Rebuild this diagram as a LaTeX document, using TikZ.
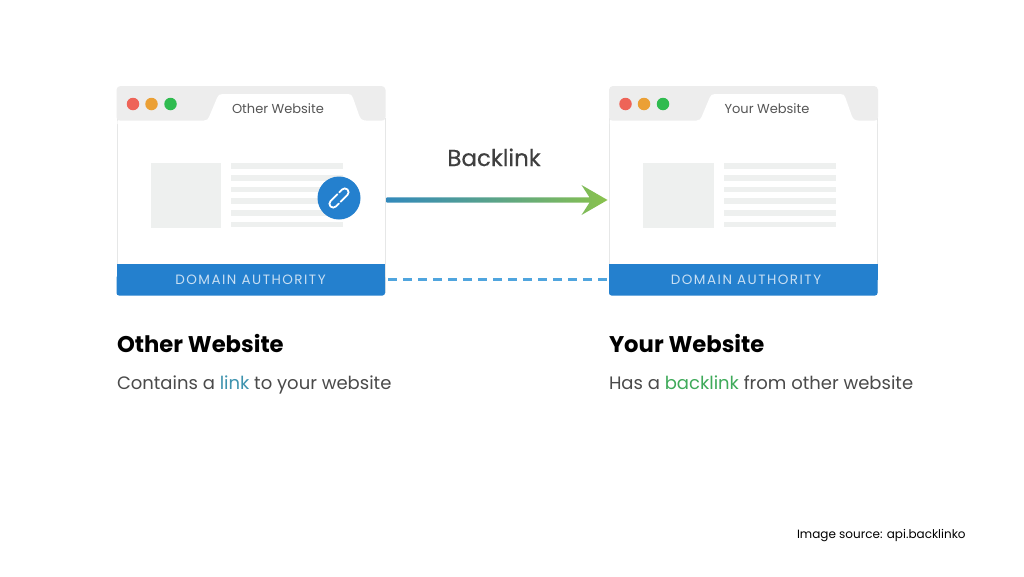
\documentclass[tikz,border=0pt]{standalone}
\usepackage{fontspec}
\setmainfont{Poppins}
\usetikzlibrary{calc}
\definecolor{barblue}{HTML}{2480CE}
\definecolor{dashblue}{HTML}{50A5DE}
\definecolor{chrome}{HTML}{EDEDED}
\definecolor{edge}{HTML}{E6E7E7}
\definecolor{ph}{HTML}{EEF0EF}
\definecolor{dotr}{HTML}{EE6458}
\definecolor{doto}{HTML}{EBA035}
\definecolor{dotg}{HTML}{2FBB4F}
\definecolor{arrowgreen}{HTML}{8BC34A}
\definecolor{inktab}{HTML}{555555}
\definecolor{inkbody}{HTML}{4A4A4A}
\definecolor{linkteal}{HTML}{3E93AE}
\definecolor{linkgreen}{HTML}{3FAA5A}
\pgfdeclarehorizontalshading{backlinkshade}{100bp}{color(0bp)=(barblue); color(16bp)=(barblue); color(48bp)=(barblue!50!arrowgreen); color(76bp)=(arrowgreen); color(100bp)=(arrowgreen)}
\tikzset{
  x=1pt,y=-1pt,
  lbl/.style={inner sep=0pt,outer sep=0pt},
  tabtext/.style={lbl,anchor=base,text=inktab,font=\fontsize{13}{13}\selectfont},
  domainlabel/.style={lbl,anchor=base,text=white!75!barblue,font=\fontsize{13.5}{14}\selectfont},
  heading/.style={lbl,anchor=base west,text=black,font=\fontsize{22.7}{23}\selectfont\bfseries},
  bodytext/.style={lbl,anchor=base west,text=inkbody,font=\fontsize{18}{18}\selectfont},
  dotnode/.style={circle,minimum size=12.5pt,inner sep=0pt,outer sep=0pt},
  phbox/.style={fill=ph,draw=none},
  chain/.style={draw=white,line width=1.8pt,line cap=round,rounded corners=3.8pt},
  dashlink/.style={draw=dashblue,line width=2.4pt,dash pattern=on 8.5pt off 6.5pt},
}
\newcommand{\browser}[2]{% id, shift
  \begin{scope}[xshift=#2pt]
    \path[fill=white,draw=edge,line width=0.8pt] (117,118) -- (117,292) -- (385,292) -- (385,118) -- cycle;
    \path[fill=chrome,rounded corners=4pt] (116.5,121) -- (116.5,86) -- (385.5,86) -- (385.5,121) -- cycle;
    \path[fill=white] (117.3,120.5) -- (204,120.5) .. controls (207,120.5) and (208,119) .. (209,117)
      -- (217,98) .. controls (218,95) and (219.5,94) .. (222.5,94)
      -- (348,94) .. controls (351,94) and (352,95) .. (353,98)
      -- (359,115) .. controls (360.5,119) and (362,120.5) .. (366,120.5)
      -- (384.7,120.5) -- (384.7,124) -- (117.3,124) -- cycle;
    \node[dotnode,fill=dotr] (#1r) at (133,104) {};
    \node[dotnode,fill=doto] (#1o) at (151.5,104) {};
    \node[dotnode,fill=dotg] (#1g) at (170.5,104) {};
    \path[phbox] (150.5,163) rectangle (221,227.5);
    \foreach \yy in {163.2,174.9,186.6,198.3,210,221.7}
      \path[phbox] (231,\yy) rectangle (343,\yy+5.6);
    \path[fill=barblue,rounded corners=2.5pt] (116.5,275) -- (116.5,295.5) -- (385,295.5) -- (385,275) -- cycle;
    \path[fill=barblue] (116.5,264) rectangle (385,280);
    \coordinate (#1top) at (385,200);
    \coordinate (#1leftmid) at (116.5,200);
    \coordinate (#1barR) at (385,279.5);
    \coordinate (#1barL) at (116.5,279.5);
  \end{scope}
}
\begin{document}
\begin{tikzpicture}
\useasboundingbox (0,0) rectangle (1024,576);
\fill[white] (0,0) rectangle (1024,576);

\browser{oth}{0}
\browser{your}{492.5}

\node[tabtext] (othtab) at (278,113) {Other Website};
\node[tabtext] (yourtab) at (767,113) {Your Website};
\node[domainlabel] (othdom) at (250.5,284) {\addfontfeature{LetterSpace=11}DOMAIN AUTHORITY};
\node[domainlabel] (yourdom) at (746,284) {\addfontfeature{LetterSpace=11}DOMAIN AUTHORITY};

% link badge
\node[circle,fill=barblue,minimum size=43pt,inner sep=0pt] (badge) at (339,198) {};
\begin{scope}[shift={(badge.center)},rotate=45]
  \draw[chain] (1.5,-3.8) -- (-12,-3.8) -- (-12,3.8) -- (-4,3.8);
  \draw[chain] (-1.5,3.8) -- (12,3.8) -- (12,-3.8) -- (4,-3.8);
\end{scope}

% dashed
\draw[dashlink] ($(othbarR)+(3,0)$) -- ($(yourbarL)+(-2,0)$);

% gradient arrow
\coordinate (arrowA) at ($(othtop)+(1.5,0)$);
\coordinate (arrowB) at ($(yourleftmid)+(-1.5,0)$);
\path[shading=backlinkshade]
  ($(arrowA)+(0,-2.6)$) -- ($(arrowB)+(-18,-2.6)$) -- ($(arrowB)+(-26,-15)$) -- (arrowB)
  -- ($(arrowB)+(-26,15)$) -- ($(arrowB)+(-18,2.6)$) -- ($(arrowA)+(0,2.6)$) -- cycle;

\node[lbl,anchor=base,text=inkbody!85!black,font=\fontsize{23}{23}\selectfont] (bl) at (494,166) {\addfontfeature{FakeBold=0.4}Backlink};

\node[heading] (h1) at (117,352.5) {Other Website};
\node[heading] (h2) at (609,352.5) {Your Website};
\node[bodytext] (b1) at (117,389) {Contains a \textcolor{linkteal}{link} to your website};
\node[bodytext] (b2) at (609,389) {Has a \textcolor{linkgreen}{backlink} from other website};
\node[lbl,anchor=base west,text=black,font=\fontsize{12}{12}\selectfont] (src) at (797,538) {Image source: api.backlinko};
\end{tikzpicture}
\end{document}
